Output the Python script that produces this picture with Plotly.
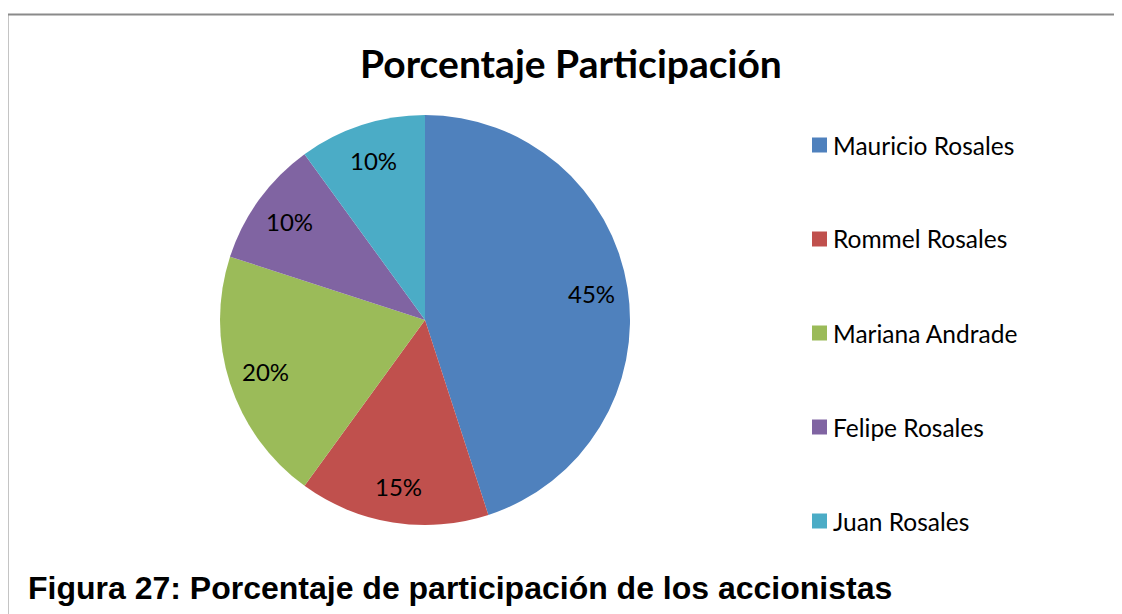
import math

import plotly.graph_objects as go

accionistas = ["Mauricio Rosales", "Rommel Rosales", "Mariana Andrade", "Felipe Rosales", "Juan Rosales"]
participacion = [45, 15, 20, 10, 10]
colores = ["#4F81BD", "#C0504D", "#9BBB59", "#8064A2", "#4BACC6"]

W, H = 1122, 614
OFF = 8  # the page body adds an 8px margin, so positions are shifted back by it

FONT_CHART = "Lato, Open Sans, sans-serif"


def px(x):
    return (x - OFF) / W


def py(y):
    return (H - (y - OFF)) / H


CX, CY, R = 425, 320, 205

fig = go.Figure(
    go.Pie(
        labels=accionistas,
        values=participacion,
        sort=False,
        direction="clockwise",
        rotation=0,
        marker={"colors": colores, "line": {"width": 0}},
        textinfo="none",
        domain={"x": [px(CX - R), px(CX + R)], "y": [py(CY + R), py(CY - R)]},
        showlegend=False,
        hoverinfo="label+percent",
    )
)

# percentage labels along each slice bisector, like Excel's best-fit placement
total = sum(participacion)
acum = 0
for valor in participacion:
    medio = (acum + valor / 2) / total * 2 * math.pi
    acum += valor
    lx = CX + 0.82 * R * math.sin(medio)
    ly = CY - 0.82 * R * math.cos(medio)
    fig.add_annotation(
        x=px(lx), y=py(ly), xref="paper", yref="paper",
        text=f"{round(valor / total * 100)}%", showarrow=False,
        xanchor="center", yanchor="middle",
        font={"family": FONT_CHART, "size": 24, "color": "black"},
    )

# legend drawn by hand so the tall Excel-style spacing can be kept
for i, (name, color) in enumerate(zip(accionistas, colores)):
    y_px = 145 + i * 94
    fig.add_shape(
        type="rect", xref="paper", yref="paper",
        x0=px(812), x1=px(827), y0=py(y_px + 7.5), y1=py(y_px - 7.5),
        fillcolor=color, line={"width": 0},
    )
    fig.add_annotation(
        x=px(831), y=py(y_px), xref="paper", yref="paper",
        text=name, showarrow=False, xanchor="left", yanchor="middle",
        font={"family": FONT_CHART, "size": 24.5, "color": "black"},
    )

# chart frame (only top and left edges are visible in the crop)
fig.add_shape(type="line", xref="paper", yref="paper", x0=px(7.5), x1=1.0, y0=py(14.5), y1=py(14.5),
              line={"color": "#8a8a8a", "width": 2})
fig.add_shape(type="line", xref="paper", yref="paper", x0=px(7.5), x1=px(7.5), y0=0, y1=py(14.5),
              line={"color": "#8a8a8a", "width": 2})

fig.add_annotation(
    x=px(571), y=py(63), xref="paper", yref="paper",
    text="<b>Porcentaje Participación</b>", showarrow=False, xanchor="center", yanchor="middle",
    font={"family": FONT_CHART, "size": 39, "color": "black"},
)
fig.add_annotation(
    x=px(26), y=py(588), xref="paper", yref="paper",
    text="<b>Figura 27: Porcentaje de participación de los accionistas</b>", showarrow=False,
    xanchor="left", yanchor="middle", bgcolor="white",
    font={"family": "Liberation Sans, Arial, sans-serif", "size": 32, "color": "black"},
)

fig.update_layout(
    width=W, height=H,
    margin={"l": 0, "r": 0, "t": 0, "b": 0},
    paper_bgcolor="white", plot_bgcolor="white",
)
fig.write_html("out.html")
